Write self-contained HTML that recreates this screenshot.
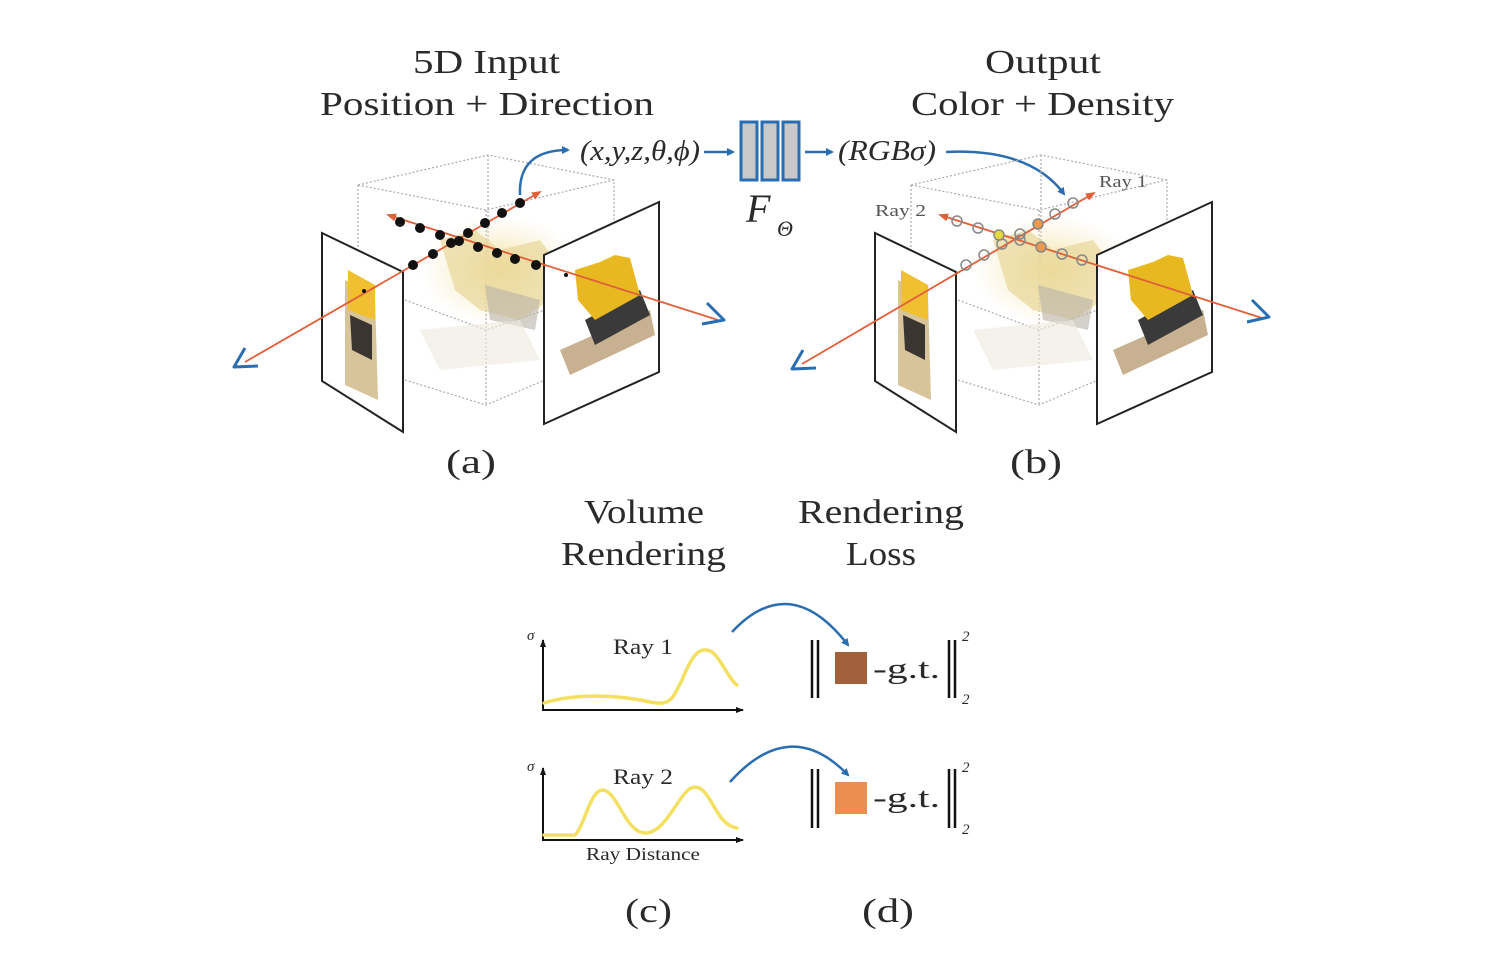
<!DOCTYPE html>
<html><head><meta charset="utf-8"><style>
html,body{margin:0;padding:0;background:#fff;}
svg{display:block;}
text{font-family:"Liberation Serif",serif;fill:#2a2a2a;}
</style></head><body>
<svg width="1504" height="954" viewBox="0 0 1504 954" xmlns="http://www.w3.org/2000/svg">
<defs>
<marker id="ab" markerWidth="8" markerHeight="8" refX="6" refY="4" orient="auto" markerUnits="userSpaceOnUse"><path d="M0,0 L8,4 L0,8 z" fill="#2a6db0"/></marker>
<marker id="ar" markerWidth="10" markerHeight="8" refX="8" refY="4" orient="auto" markerUnits="userSpaceOnUse"><path d="M0,0 L10,4 L0,8 z" fill="#e0603a"/></marker>
<marker id="ak" markerWidth="8" markerHeight="8" refX="7" refY="4" orient="auto" markerUnits="userSpaceOnUse"><path d="M0,1 L8,4 L0,7 z" fill="#111"/></marker>
<radialGradient id="glow" cx="50%" cy="50%" r="50%"><stop offset="0" stop-color="#f3dc8a" stop-opacity="0.9"/><stop offset="1" stop-color="#f6e8c0" stop-opacity="0"/></radialGradient>
<g id="scene">
  <g fill="none" stroke="#aaa" stroke-width="1.2" stroke-dasharray="2,2">
    <path d="M358,185 L488,155 L614,180 L614,290 M358,185 L358,300 M358,185 L486,210 L614,180 M486,210 L486,405 M405,300 L486,330 L545,310 M405,380 L486,405 L545,380 M488,155 L488,270"/>
  </g>
  <ellipse cx="500" cy="270" rx="80" ry="55" fill="url(#glow)"/>
  <path d="M440,240 L475,230 L500,250 L540,240 L555,260 L550,300 L520,320 L480,310 L455,290 Z" fill="#e8d79a" opacity="0.7"/>
  <path d="M485,285 L540,300 L535,330 L490,320 Z" fill="#b8b3a6" opacity="0.6"/>
  <path d="M420,330 L520,320 L540,360 L440,370 Z" fill="#eee9de" opacity="0.6"/>
  <polygon points="322,233 403,272 403,432 322,381" fill="#fff" stroke="#222" stroke-width="2"/>
  <path d="M345,280 L375,295 L378,400 L345,385 Z" fill="#d8c49a"/>
  <path d="M348,270 L375,285 L375,320 L348,310 Z" fill="#f0c030"/>
  <path d="M350,315 L372,325 L372,360 L352,350 Z" fill="#3a3530"/>
  <polygon points="544,255 659,202 659,372 544,424" fill="#fff" stroke="#222" stroke-width="2"/>
  <path d="M560,350 L650,310 L655,335 L570,375 Z" fill="#c8b190"/>
  <path d="M585,320 L640,290 L650,315 L595,345 Z" fill="#3a3a3a"/>
  <path d="M575,270 L600,262 L615,255 L630,258 L640,295 L595,320 L578,300 Z" fill="#e8b820"/>
</g>
</defs>

<g font-size="34" lengthAdjust="spacingAndGlyphs">
<text x="413" y="73" textLength="147" lengthAdjust="spacingAndGlyphs">5D Input</text>
<text x="320" y="115" textLength="334" lengthAdjust="spacingAndGlyphs">Position + Direction</text>
<text x="985" y="73" textLength="116" lengthAdjust="spacingAndGlyphs">Output</text>
<text x="911" y="115" textLength="263" lengthAdjust="spacingAndGlyphs">Color + Density</text>
<text x="446" y="473" textLength="50" lengthAdjust="spacingAndGlyphs">(a)</text>
<text x="1010" y="473" textLength="52" lengthAdjust="spacingAndGlyphs">(b)</text>
<text x="584" y="523" textLength="120" lengthAdjust="spacingAndGlyphs">Volume</text>
<text x="561" y="565" textLength="165" lengthAdjust="spacingAndGlyphs">Rendering</text>
<text x="798" y="523" textLength="166" lengthAdjust="spacingAndGlyphs">Rendering</text>
<text x="846" y="565" textLength="70" lengthAdjust="spacingAndGlyphs">Loss</text>
<text x="625" y="922" textLength="47" lengthAdjust="spacingAndGlyphs">(c)</text>
<text x="862" y="922" textLength="52" lengthAdjust="spacingAndGlyphs">(d)</text>
</g>

<use href="#scene"/>
<g stroke="#e0603a" stroke-width="1.8" fill="none">
  <line x1="245" y1="362" x2="540" y2="192" marker-end="url(#ar)"/>
  <line x1="718" y1="320" x2="388" y2="215" marker-end="url(#ar)"/>
</g>
<g fill="#111">
  <circle cx="413" cy="265" r="5"/><circle cx="433" cy="254" r="5"/><circle cx="451" cy="243" r="5"/><circle cx="468" cy="233" r="5"/><circle cx="485" cy="223" r="5"/><circle cx="502" cy="213" r="5"/><circle cx="520" cy="203" r="5"/>
  <circle cx="400" cy="222" r="5"/><circle cx="420" cy="228" r="5"/><circle cx="440" cy="235" r="5"/><circle cx="459" cy="241" r="5"/><circle cx="478" cy="247" r="5"/><circle cx="497" cy="253" r="5"/><circle cx="515" cy="259" r="5"/><circle cx="536" cy="265" r="5"/>
  <circle cx="364" cy="291" r="2"/><circle cx="566" cy="275" r="2"/>
</g>
<g stroke="#2a6db0" stroke-width="3" fill="none" stroke-linejoin="round">
  <path d="M245,348 L234,367 L258,366"/>
  <path d="M707,303 L724,320 L702,324"/>
</g>
<path d="M520,195 Q518,150 568,150" stroke="#2a6db0" stroke-width="2.5" fill="none" marker-end="url(#ab)"/>

<text x="580" y="160" font-size="28" font-style="italic" textLength="120" lengthAdjust="spacingAndGlyphs">(x,y,z,θ,ϕ)</text>
<line x1="704" y1="152" x2="733" y2="152" stroke="#2a6db0" stroke-width="2.5" marker-end="url(#ab)"/>
<g fill="#c9c9c9" stroke="#2a6db0" stroke-width="3">
  <rect x="741" y="122" width="16" height="58"/><rect x="762" y="122" width="16" height="58"/><rect x="783" y="122" width="16" height="58"/>
</g>
<text x="746" y="222" font-size="40" font-style="italic">F</text>
<text x="777" y="236" font-size="22" font-style="italic">Θ</text>
<line x1="805" y1="152" x2="832" y2="152" stroke="#2a6db0" stroke-width="2.5" marker-end="url(#ab)"/>
<text x="838" y="160" font-size="28" font-style="italic" textLength="98" lengthAdjust="spacingAndGlyphs">(RGBσ)</text>
<path d="M946,152 Q1030,148 1064,194" stroke="#2a6db0" stroke-width="2.5" fill="none" marker-end="url(#ab)"/>

<use href="#scene" transform="translate(553,0)"/>
<g stroke="#e0603a" stroke-width="1.8" fill="none">
  <line x1="802" y1="364" x2="1094" y2="193" marker-end="url(#ar)"/>
  <line x1="1262" y1="318" x2="940" y2="215" marker-end="url(#ar)"/>
</g>
<g stroke="#888" stroke-width="1.5" fill="none">
  <circle cx="966" cy="265" r="5"/><circle cx="984" cy="255" r="5"/><circle cx="1002" cy="244" r="5"/><circle cx="1020" cy="234" r="5"/><circle cx="1055" cy="214" r="5"/><circle cx="1073" cy="203" r="5"/>
  <circle cx="957" cy="221" r="5"/><circle cx="978" cy="228" r="5"/><circle cx="1020" cy="240" r="5"/><circle cx="1062" cy="254" r="5"/><circle cx="1082" cy="260" r="5"/>
</g>
<g stroke="#888" stroke-width="1.5">
  <circle cx="999" cy="235" r="5" fill="#e8d840"/>
  <circle cx="1038" cy="224" r="5" fill="#e89a50"/>
  <circle cx="1041" cy="247" r="5" fill="#e89a50"/>
</g>
<g stroke="#2a6db0" stroke-width="3" fill="none" stroke-linejoin="round">
  <path d="M803,350 L792,369 L816,368"/>
  <path d="M1252,300 L1269,317 L1247,322"/>
</g>
<text x="1099" y="187" font-size="17" style="fill:#555" textLength="48" lengthAdjust="spacingAndGlyphs">Ray 1</text>
<text x="875" y="216" font-size="17" style="fill:#555" textLength="51" lengthAdjust="spacingAndGlyphs">Ray 2</text>

<g stroke="#111" stroke-width="2" fill="none">
  <line x1="543" y1="711" x2="543" y2="640" marker-end="url(#ak)"/>
  <line x1="542" y1="710" x2="743" y2="710" marker-end="url(#ak)"/>
  <line x1="543" y1="841" x2="543" y2="768" marker-end="url(#ak)"/>
  <line x1="542" y1="840" x2="743" y2="840" marker-end="url(#ak)"/>
</g>
<g stroke="#f4e060" stroke-width="3.5" fill="none" stroke-linecap="round">
  <path d="M544,703 C575,693 620,695 650,702 C670,706 672,700 682,680 C692,655 700,645 712,652 C722,660 728,678 737,685"/>
  <path d="M544,835 L575,835 C585,825 590,790 603,790 C618,792 625,832 645,833 C668,833 680,787 695,787 C712,788 715,825 737,828"/>
</g>
<text x="527" y="640" font-size="15" font-style="italic">σ</text>
<text x="527" y="771" font-size="15" font-style="italic">σ</text>
<text x="613" y="654" font-size="22" textLength="60" lengthAdjust="spacingAndGlyphs">Ray 1</text>
<text x="613" y="784" font-size="22" textLength="60" lengthAdjust="spacingAndGlyphs">Ray 2</text>
<text x="586" y="860" font-size="18" textLength="114" lengthAdjust="spacingAndGlyphs">Ray Distance</text>

<path d="M732,632 Q790,570 848,645" stroke="#2a6db0" stroke-width="2.5" fill="none" marker-end="url(#ab)"/>
<path d="M730,782 Q790,715 848,775" stroke="#2a6db0" stroke-width="2.5" fill="none" marker-end="url(#ab)"/>

<g stroke="#111" stroke-width="2.5">
  <line x1="812" y1="640" x2="812" y2="698"/><line x1="818" y1="640" x2="818" y2="698"/>
  <line x1="949" y1="640" x2="949" y2="698"/><line x1="955" y1="640" x2="955" y2="698"/>
  <line x1="812" y1="769" x2="812" y2="828"/><line x1="818" y1="769" x2="818" y2="828"/>
  <line x1="949" y1="769" x2="949" y2="828"/><line x1="955" y1="769" x2="955" y2="828"/>
</g>
<rect x="835" y="652" width="32" height="32" fill="#a0603a"/>
<rect x="835" y="782" width="32" height="32" fill="#ec8e50"/>
<text x="873" y="678" font-size="28" textLength="67" lengthAdjust="spacingAndGlyphs">-g.t.</text>
<text x="873" y="807" font-size="28" textLength="67" lengthAdjust="spacingAndGlyphs">-g.t.</text>
<g font-size="15" font-style="italic">
<text x="962" y="641">2</text><text x="962" y="704">2</text>
<text x="962" y="772">2</text><text x="962" y="834">2</text>
</g>
</svg>
</body></html>
